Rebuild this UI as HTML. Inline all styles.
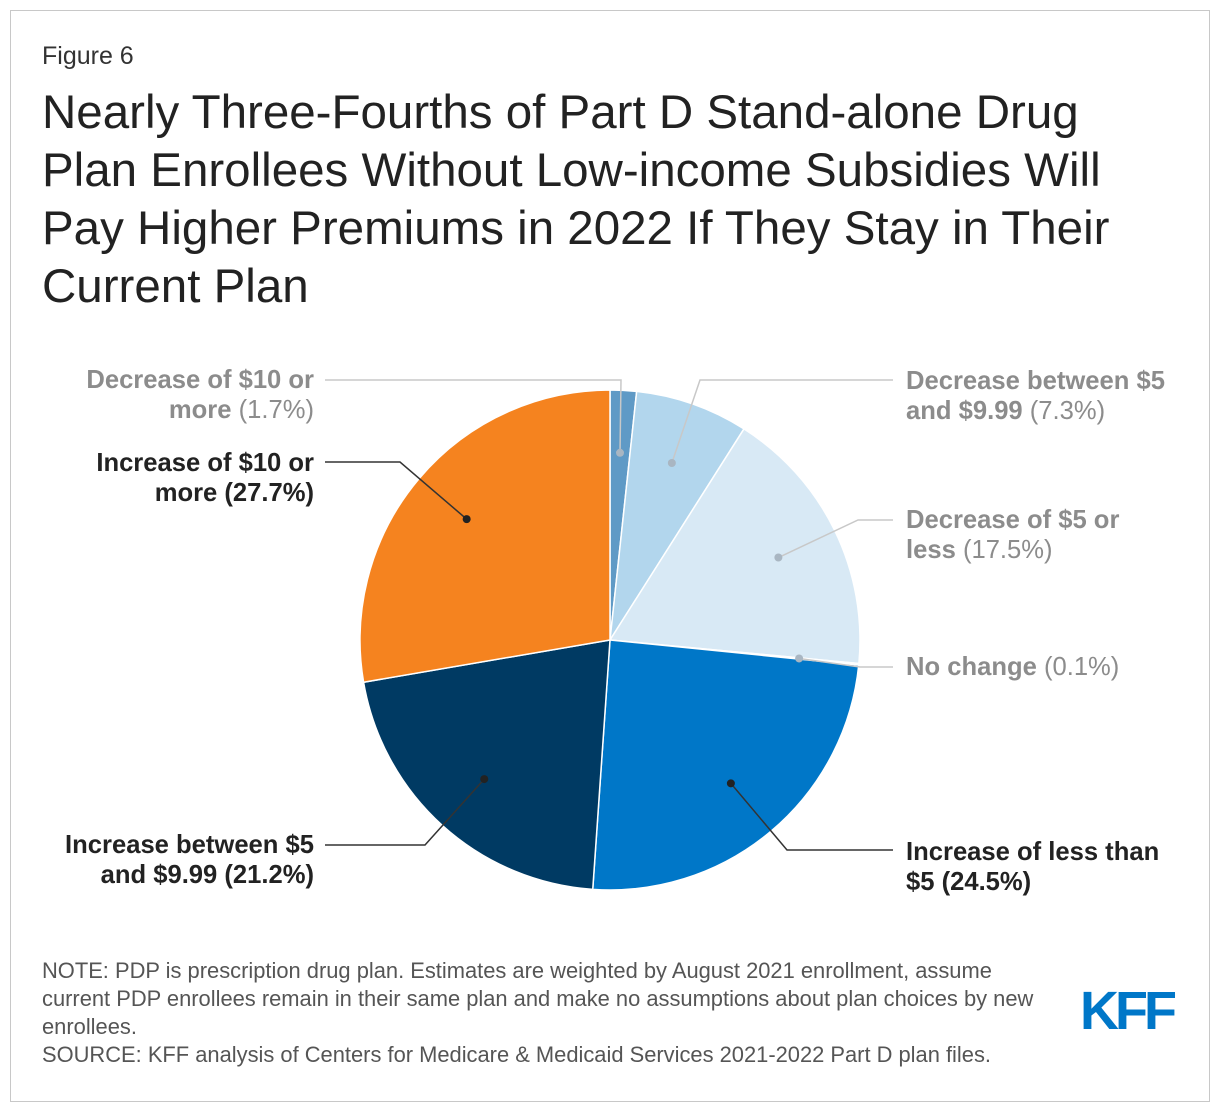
<!DOCTYPE html>
<html><head><meta charset="utf-8"><style>
body{margin:0;width:1220px;height:1112px;background:#fff;font-family:"Liberation Sans",Arial,sans-serif;}
#frame{position:absolute;left:10px;top:10px;width:1198px;height:1090px;border:1px solid #c8c8c8;}
.t{position:absolute;color:#333;}
.lab{position:absolute;font-size:25.6px;line-height:30px;font-weight:bold;white-space:nowrap;}
.gray{color:#8c8c8c}
.gray span{font-weight:normal}
.dark{color:#222}
</style></head><body>
<div id="frame"></div>
<div class="t" style="left:42px;top:42px;font-size:25px;">Figure 6</div>
<div class="t" style="left:42px;top:84px;font-size:47.5px;line-height:58px;width:1120px;color:#222;">Nearly Three-Fourths of Part D Stand-alone Drug Plan Enrollees Without Low-income Subsidies Will Pay Higher Premiums in 2022 If They Stay in Their Current Plan</div>
<svg id="pie" width="1220" height="1112" style="position:absolute;left:0;top:0"></svg>
<div class="lab gray" style="right:906px;top:365px;text-align:right">Decrease of $10 or<br>more <span>(1.7%)</span></div>
<div class="lab dark" style="right:906px;top:448px;text-align:right">Increase of $10 or<br>more (27.7%)</div>
<div class="lab dark" style="right:906px;top:830px;text-align:right">Increase between $5<br>and $9.99 (21.2%)</div>
<div class="lab gray" style="left:906px;top:366px">Decrease between $5<br>and $9.99 <span>(7.3%)</span></div>
<div class="lab gray" style="left:906px;top:505px">Decrease of $5 or<br>less <span>(17.5%)</span></div>
<div class="lab gray" style="left:906px;top:652px">No change <span>(0.1%)</span></div>
<div class="lab dark" style="left:906px;top:837px">Increase of less than<br>$5 (24.5%)</div>
<div class="t" style="left:42px;top:957px;font-size:21.9px;line-height:28px;width:1060px;color:#555;white-space:nowrap">NOTE: PDP is prescription drug plan. Estimates are weighted by August 2021 enrollment, assume<br>current PDP enrollees remain in their same plan and make no assumptions about plan choices by new<br>enrollees.<br>SOURCE: KFF analysis of Centers for Medicare &amp; Medicaid Services 2021-2022 Part D plan files.</div>
<div class="t" style="left:1080px;top:980px;font-size:54px;font-weight:bold;color:#0077c8;letter-spacing:-4px;">KFF</div>
<script>
const categories=["Decrease of $10 or more","Decrease between $5 and $9.99","Decrease of $5 or less","No change","Increase of less than $5","Increase between $5 and $9.99","Increase of $10 or more"];
const values=[1.7,7.3,17.5,0.1,24.5,21.2,27.7];
const colors=["#5f9ac6","#b2d6ed","#d8e9f5","#d8e9f5","#0077c8","#003a63","#f5831f"];
const elbows=[[621,380,325,380],[700,380,893,380],[858,520,893,520],[860,667,893,667],[787,850,893,850],[425,845,325,845],[400,462,325,462]];
const dark=[false,false,false,false,true,true,true];
const svg=document.getElementById('pie');const NS="http://www.w3.org/2000/svg";
const cx=610,cy=640,R=250;
const total=values.reduce((a,b)=>a+b,0);
function pt(a,r){return [cx+r*Math.sin(a),cy-r*Math.cos(a)];}
let acc=0;
values.forEach((v,i)=>{
 const a0=acc/total*2*Math.PI;acc+=v;const a1=acc/total*2*Math.PI;
 const p0=pt(a0,R),p1=pt(a1,R);
 const p=document.createElementNS(NS,'path');
 p.setAttribute('d',`M${cx},${cy}L${p0[0]},${p0[1]}A${R},${R} 0 ${a1-a0>Math.PI?1:0} 1 ${p1[0]},${p1[1]}Z`);
 p.setAttribute('fill',colors[i]);p.setAttribute('stroke','#fff');p.setAttribute('stroke-width','1.5');
 
 
 svg.appendChild(p);
});
acc=0;
values.forEach((v,i)=>{
 const am=(acc+v/2)/total*2*Math.PI;acc+=v;
 const d=pt(am,i==3?R*0.76:R*0.75);const e=elbows[i];
 const col=dark[i]?'#333':'#c8c8c8';
 const l=document.createElementNS(NS,'polyline');
 l.setAttribute('points',`${d[0]},${d[1]} ${e[0]},${e[1]} ${e[2]},${e[3]}`);
 l.setAttribute('fill','none');l.setAttribute('stroke',col);l.setAttribute('stroke-width','1.5');
 
 
 svg.appendChild(l);
 const c=document.createElementNS(NS,'circle');
 c.setAttribute('cx',d[0]);c.setAttribute('cy',d[1]);c.setAttribute('r','4');c.setAttribute('fill',dark[i]?'#222':'#a9b6c2');
 
 
 svg.appendChild(c);
});
</script>
</body></html>
